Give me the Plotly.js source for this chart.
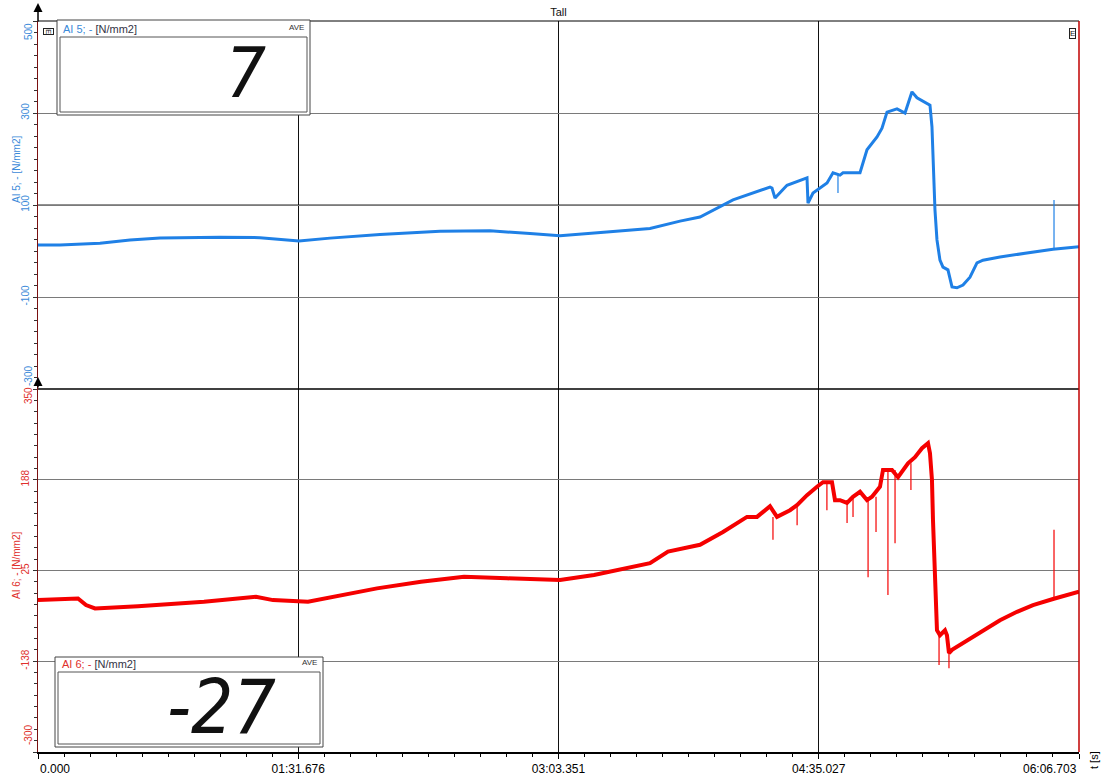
<!DOCTYPE html>
<html>
<head>
<meta charset="utf-8">
<script src="https://cdn.plot.ly/plotly-3.0.1.min.js"></script>
<style>html,body{margin:0;padding:0;background:#fff}#chart{width:1103px;height:776px}</style>
</head>
<body>
<div id="chart"></div>
<script>
// ---- data ----
const blueTime = [0.0,7.75,21.84,32.41,42.98,64.11,78.20,91.94,102.86,120.47,141.61,159.22,173.31,183.88,201.49,215.58,226.15,233.20,244.82,257.85,258.56,259.62,263.84,270.89,271.24,273.00,277.94,280.05,282.51,283.57,289.56,290.62,292.02,295.55,297.31,299.07,302.59,305.41,307.17,307.87,309.63,313.15,314.21,314.91,315.27,315.97,316.67,317.73,318.78,320.54,321.97,323.72,325.84,328.30,330.77,332.89,338.87,350.50,357.54,366.70];
const blueValue = [13,13,17,24,28,30,29,22,28,36,43,44,38,33,42,49,65,74,111,139,137,115,143,159,104,126,148,170,165,170,170,191,220,248,267,302,309,300,333,346,333,322,317,270,198,89,24,-20,-35,-41,-78,-80,-74,-57,-26,-20,-13,-2,4,9];
const blueSpikeTime = [281.8, 357.9];
const blueSpikeBase = [168, 4];
const blueSpikeTip = [126, 111];

const redTime = [0.0,14.09,16.91,20.08,35.23,58.48,76.79,82.78,95.11,104.27,119.42,134.92,150.06,165.21,183.88,195.86,215.58,221.92,233.20,241.30,249.75,253.28,257.85,260.32,264.90,267.36,270.89,274.41,276.52,279.69,280.75,282.51,284.98,287.09,289.56,292.02,293.78,296.60,297.66,300.83,302.94,306.47,308.93,311.40,313.51,314.21,314.91,315.27,315.97,316.67,317.73,319.49,320.19,320.90,321.97,325.84,332.89,338.87,344.86,350.50,357.54,366.70];
const redValue = [-28,-25,-37,-43,-39,-31,-22,-28,-31,-22,-7,5,14,11,8,17,38,59,71,94,121,121,140,121,133,142,160,175,183,183,151,151,146,157,166,151,157,175,205,205,192,217,228,244,253,235,187,115,26,-82,-91,-82,-91,-123,-117,-105,-82,-64,-49,-37,-26,-13];
const redSpikeTime = [258.9,267.4,277.9,285.0,287.1,292.4,295.2,299.4,301.9,307.5,317.4,320.9,357.9];
const redSpikeBase = [121,142,183,146,157,151,157,205,205,217,-85,-117,-26];
const redSpikeTip = [80,106,133,110,121,13,94,-19,74,169,-144,-150,98];

const xTickVals = [0, 91.676, 183.351, 275.027, 366.703];
const xTickText = ['0.000', '01:31.676', '03:03.351', '04:35.027', '06:06.703'];
const blueTickVals = [500, 300, 100, -100, -300];
const blueTickText = ['500', '300', '100', '-100', '-300'];
const redTickVals = [350, 187.5, 25, -137.5, -300];
const redTickText = ['350', '188', '25', '-138', '-300'];

const chartTitle = 'Tall';
const blueName = 'AI 5; - [N/mm2]';
const redName = 'AI 6; - [N/mm2]';
const blueDisplay = '7';
const redDisplay = '-27';
const displayMode = 'AVE';
const xUnit = 't [s]';

// ---- styles ----
const BLUE = '#1f80e6', BLUE_TXT = '#3b8ad9';
const RED = '#f50000', RED_TXT = '#e0302c';
const FONT = 'Liberation Sans, Arial, sans-serif';
const DIGIT_FONT = 'DejaVu Sans Condensed, DejaVu Sans, sans-serif';
const W = 1103, H = 776, ML = 38, MR = 24, MT = 21, MB = 24;
const PW = W - ML - MR, PH = H - MT - MB;
const px = x => (x - ML) / PW;           // page px -> paper x
const py = y => (H - MB - y) / PH;       // page px -> paper y
const split = py(389);

function spikes(t, a, b) {
  const xs = [], ys = [];
  t.forEach((v, i) => { xs.push(v, v, null); ys.push(a[i], b[i], null); });
  return {xs, ys};
}
const bs = spikes(blueSpikeTime, blueSpikeBase, blueSpikeTip);
const rs = spikes(redSpikeTime, redSpikeBase, redSpikeTip);

const traces = [
  {x: blueTime, y: blueValue, xaxis: 'x', yaxis: 'y', mode: 'lines', line: {color: BLUE, width: 3}, hoverinfo: 'skip'},
  {x: bs.xs, y: bs.ys, xaxis: 'x', yaxis: 'y', mode: 'lines', line: {color: BLUE, width: 1.2}, hoverinfo: 'skip'},
  {x: redTime, y: redValue, xaxis: 'x', yaxis: 'y2', mode: 'lines', line: {color: RED, width: 4}, hoverinfo: 'skip'},
  {x: rs.xs, y: rs.ys, xaxis: 'x', yaxis: 'y2', mode: 'lines', line: {color: RED, width: 1.2}, hoverinfo: 'skip'}
];

const edgeBlank = arr => arr.map((t, i) => (i === 0 || i === arr.length - 1) ? '' : t);

const annotations = [];
// edge tick labels (drawn inside the panel, like the original)
function edgeY(vals, texts, yref, color, shifts) {
  [0, vals.length - 1].forEach((i, k) => annotations.push({
    xref: 'paper', yref: yref, x: 0, y: vals[i], text: texts[i], showarrow: false,
    textangle: -90, xanchor: 'center', yanchor: 'middle', xshift: -10, yshift: shifts[k],
    font: {family: FONT, size: 10, color: color}
  }));
}
edgeY(blueTickVals, blueTickText, 'y', BLUE_TXT, [-11, 13]);
edgeY(redTickVals, redTickText, 'y2', RED_TXT, [-7, 17]);
annotations.push(
  {xref: 'x', yref: 'paper', x: xTickVals[0], y: 0, text: xTickText[0], showarrow: false, xanchor: 'left', yanchor: 'top', yshift: -8, font: {family: FONT, size: 12, color: '#000'}},
  {xref: 'x', yref: 'paper', x: xTickVals[4], y: 0, text: xTickText[4], showarrow: false, xanchor: 'right', yanchor: 'top', yshift: -8, font: {family: FONT, size: 12, color: '#000'}},
  // axis titles
  {xref: 'paper', yref: 'paper', x: 0, y: py(170), text: blueName, showarrow: false, textangle: -90, xanchor: 'center', yanchor: 'middle', xshift: -22, font: {family: FONT, size: 10, color: BLUE_TXT}},
  {xref: 'paper', yref: 'paper', x: 0, y: py(566), text: redName, showarrow: false, textangle: -90, xanchor: 'center', yanchor: 'middle', xshift: -22, font: {family: FONT, size: 10, color: RED_TXT}},
  {xref: 'paper', yref: 'paper', x: 1, y: 0, text: xUnit, showarrow: false, textangle: -90, xanchor: 'center', yanchor: 'middle', xshift: 15, yshift: -8, font: {family: FONT, size: 11, color: '#000'}},
  // display boxes
  {xref: 'paper', yref: 'paper', x: px(61), y: py(29), text: '<span style="color:' + BLUE_TXT + '">AI 5; - </span><span style="color:#334">[N/mm2]</span>', showarrow: false, xanchor: 'left', yanchor: 'middle', font: {family: FONT, size: 11}},
  {xref: 'paper', yref: 'paper', x: px(306), y: py(28), text: displayMode, showarrow: false, xanchor: 'right', yanchor: 'middle', font: {family: FONT, size: 8, color: '#333'}},
  {xref: 'paper', yref: 'paper', x: px(268), y: py(73), text: blueDisplay, showarrow: false, xanchor: 'right', yanchor: 'middle', font: {family: DIGIT_FONT, size: 70, color: '#111', style: 'italic'}},
  {xref: 'paper', yref: 'paper', x: px(60), y: py(664), text: '<span style="color:' + RED_TXT + '">AI 6; - </span><span style="color:#334">[N/mm2]</span>', showarrow: false, xanchor: 'left', yanchor: 'middle', font: {family: FONT, size: 11}},
  {xref: 'paper', yref: 'paper', x: px(319), y: py(662), text: displayMode, showarrow: false, xanchor: 'right', yanchor: 'middle', font: {family: FONT, size: 8, color: '#333'}},
  {xref: 'paper', yref: 'paper', x: px(278), y: py(707), text: redDisplay, showarrow: false, xanchor: 'right', yanchor: 'middle', font: {family: DIGIT_FONT, size: 74, color: '#111', style: 'italic'}},
  // small channel markers
  {xref: 'paper', yref: 'paper', x: px(43), y: py(28), text: 'E', showarrow: false, textangle: 90, font: {family: FONT, size: 8, color: '#222'}, bordercolor: '#222', borderwidth: 1, borderpad: 0, bgcolor: '#fff'},
  {xref: 'paper', yref: 'paper', x: px(1076), y: py(28), text: 'E', showarrow: false, textangle: 0, font: {family: FONT, size: 8, color: '#222'}, bordercolor: '#222', borderwidth: 1, borderpad: 0, bgcolor: '#fff'},
  // axis arrows
  {xref: 'paper', yref: 'paper', x: 0, y: py(3), text: '', showarrow: true, ax: 0, ay: 20, arrowhead: 2, arrowsize: 1.2, arrowwidth: 1.5, arrowcolor: '#000'},
  {xref: 'paper', yref: 'paper', x: 0, y: py(377), text: '', showarrow: true, ax: 0, ay: 12, arrowhead: 2, arrowsize: 1.2, arrowwidth: 1.5, arrowcolor: '#000'}
);

const shapes = [
  {type: 'line', xref: 'paper', yref: 'y', x0: 0, x1: 1, y0: blueTickVals[2], y1: blueTickVals[2], line: {color: '#222', width: 1}, layer: 'below'},
  {type: 'line', xref: 'paper', yref: 'y2', x0: 0, x1: 1, y0: redTickVals[2], y1: redTickVals[2], line: {color: '#222', width: 1}, layer: 'below'},
  {type: 'line', xref: 'paper', yref: 'paper', x0: 0, x1: 1, y0: split, y1: split, line: {color: '#000', width: 1.5}, layer: 'above'},
  {type: 'line', xref: 'paper', yref: 'paper', x0: 0, x1: 1, y0: 1, y1: 1, line: {color: '#000', width: 1}, layer: 'above'},
  {type: 'line', xref: 'paper', yref: 'paper', x0: 1, x1: 1, y0: 0, y1: 1, line: {color: '#c00000', width: 1.5}, layer: 'above'},
  {type: 'rect', xref: 'paper', yref: 'paper', x0: px(57), x1: px(310), y0: py(115), y1: py(20), fillcolor: '#fff', line: {color: '#444', width: 1}, layer: 'above'},
  {type: 'rect', xref: 'paper', yref: 'paper', x0: px(60), x1: px(307), y0: py(112), y1: py(37), fillcolor: 'rgba(0,0,0,0)', line: {color: '#555', width: 1}, layer: 'above'},
  {type: 'rect', xref: 'paper', yref: 'paper', x0: px(55), x1: px(323), y0: py(747), y1: py(657), fillcolor: '#fff', line: {color: '#444', width: 1}, layer: 'above'},
  {type: 'rect', xref: 'paper', yref: 'paper', x0: px(58), x1: px(320), y0: py(744), y1: py(672), fillcolor: 'rgba(0,0,0,0)', line: {color: '#555', width: 1}, layer: 'above'}
];

const layout = {
  width: W, height: H,
  margin: {l: ML, r: MR, t: MT, b: MB, pad: 0},
  paper_bgcolor: '#fff', plot_bgcolor: '#fff',
  showlegend: false,
  font: {family: FONT, size: 11, color: '#000'},
  title: {text: chartTitle, x: 0.5, xref: 'paper', xanchor: 'center', y: 1 - 12 / H, yanchor: 'middle', font: {family: FONT, size: 11, color: '#111'}},
  xaxis: {
    domain: [0, 1], anchor: 'y2', range: [0, 366.703],
    tickmode: 'array', tickvals: xTickVals, ticktext: edgeBlank(xTickText),
    ticks: 'outside', ticklen: 5, tickcolor: '#000', tickwidth: 1,
    showline: true, linecolor: '#000', linewidth: 1.5,
    showgrid: true, gridcolor: '#111', gridwidth: 1, zeroline: false,
    tickfont: {family: FONT, size: 12, color: '#000'},
    minor: {tick0: 0, dtick: 366.703 / 40, ticks: 'outside', ticklen: 3, tickcolor: '#000', showgrid: false}
  },
  yaxis: {
    domain: [split, 1], anchor: 'x', range: [-300, 500],
    tickmode: 'array', tickvals: blueTickVals, ticktext: edgeBlank(blueTickText), tickangle: -90,
    ticks: 'outside', ticklen: 4, tickcolor: '#333',
    showline: true, linecolor: '#7a1010', linewidth: 1.5,
    showgrid: true, gridcolor: '#7a7a7a', gridwidth: 1, zeroline: false,
    tickfont: {family: FONT, size: 10, color: BLUE_TXT},
    minor: {tick0: -300, dtick: 25, ticks: 'outside', ticklen: 3, tickcolor: '#333', showgrid: false}
  },
  yaxis2: {
    domain: [0, split], anchor: 'x', range: [-300, 350],
    tickmode: 'array', tickvals: redTickVals, ticktext: edgeBlank(redTickText), tickangle: -90,
    ticks: 'outside', ticklen: 4, tickcolor: '#333',
    showline: true, linecolor: '#7a1010', linewidth: 1.5,
    showgrid: true, gridcolor: '#7a7a7a', gridwidth: 1, zeroline: false,
    tickfont: {family: FONT, size: 10, color: RED_TXT},
    minor: {tick0: -300, dtick: 650 / 32, ticks: 'outside', ticklen: 3, tickcolor: '#333', showgrid: false}
  },
  annotations: annotations,
  shapes: shapes
};

Plotly.newPlot('chart', traces, layout, {staticPlot: true, displayModeBar: false});
</script>
</body>
</html>
